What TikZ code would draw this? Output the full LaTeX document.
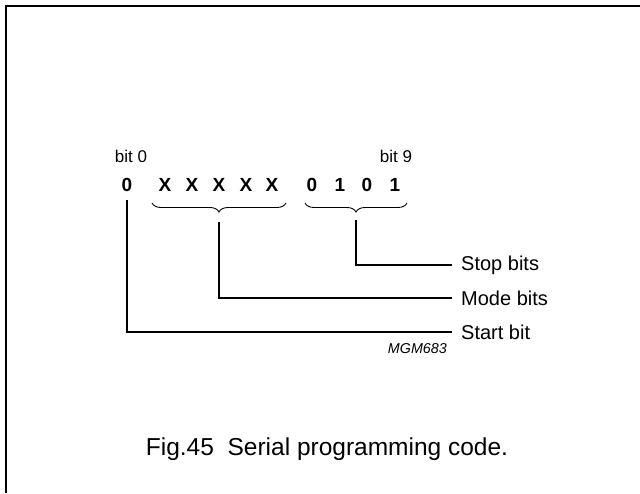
\documentclass[tikz,border=0pt]{standalone}
\usepackage{fontspec}
\setmainfont{Liberation Sans}
\usetikzlibrary{positioning,calc,decorations.pathreplacing}

\begin{document}
\begin{tikzpicture}[
  x=1pt, y=-1pt,
  bitval/.style={font=\fontsize{19}{20}\selectfont\bfseries, inner sep=0pt},
  bitname/.style={font=\fontsize{17}{20}\selectfont, inner sep=0pt},
  fieldname/.style={font=\fontsize{20}{24}\selectfont, anchor=west, inner xsep=9pt, inner ysep=0pt},
  brace/.style={decorate, decoration={brace, mirror, amplitude=9pt, aspect=0.5}, line width=0.9pt},
  lead/.style={line width=1.2pt},
]
\useasboundingbox (0,0) rectangle (640,493);

% ---------------- frame --------------------------------------------
\draw[line width=1.5pt] (6,493) -- (6,6) -- (640,6);

% ---------------- bit values ---------------------------------------
\foreach \x/\t/\n in {127/0/0, 165/X/1, 192/X/2, 219/X/3, 246/X/4, 272/X/5,
                      312/0/6, 340/1/7, 367/0/8, 395/1/9}
  \node[bitval] (b\n) at (\x,185) {\t};

\node[bitname] (first) at (131,156) {bit 0};
\node[bitname] (last) at (396,156) {bit 9};

% ---------------- braces -------------------------------------------
\coordinate (modeL) at (152,203);
\coordinate (modeR) at (286,203);
\coordinate (stopL) at (305,203);
\coordinate (stopR) at (407,203);
\draw[brace] (modeL) -- (modeR);
\draw[brace] (stopL) -- (stopR);
\coordinate (modetip) at ($(modeL)!0.5!(modeR)+(0,19)$);
\coordinate (stoptip) at ($(stopL)!0.5!(stopR)+(0,17)$);

% ---------------- field names --------------------------------------
\node[fieldname] (stop) at (452,265) {Stop bits};
\node[fieldname] (mode) at (452,298) {Mode bits};
\node[fieldname] (start) at (452,332) {Start bit};

\draw[lead] ([yshift=-8pt]b0.south) |- (start.west);
\draw[lead] (modetip) |- (mode.west);
\draw[lead] (stoptip) |- (stop.west);

\node[font=\fontsize{14.3}{16}\selectfont\itshape, anchor=east, inner sep=0pt] (code) at (447,349) {MGM683};

% ---------------- caption ------------------------------------------
\node[font=\fontsize{24.5}{28}\selectfont, inner sep=0pt] (caption) at (327,449)
  {Fig.45\ \ Serial programming code.};

\end{tikzpicture}
\end{document}
